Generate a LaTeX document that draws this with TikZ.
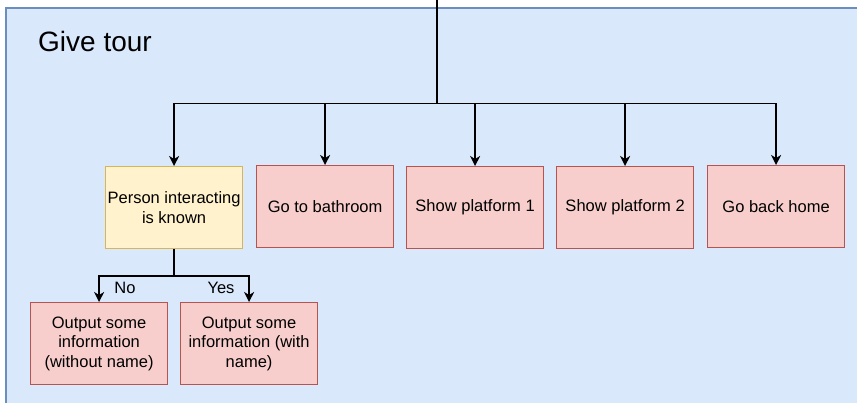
\documentclass[tikz,border=0pt]{standalone}
\usepackage{fontspec}
\setmainfont{Liberation Sans}
\usetikzlibrary{arrows.meta}
\definecolor{bgfill}{HTML}{DAE8FC}
\definecolor{bgdraw}{HTML}{6C8EBF}
\definecolor{redfill}{HTML}{F8CECC}
\definecolor{reddraw}{HTML}{B85450}
\definecolor{yelfill}{HTML}{FFF2CC}
\definecolor{yeldraw}{HTML}{D6B656}
\tikzset{
  box/.style={draw=reddraw, fill=redfill, line width=1.2pt, minimum width=137pt, minimum height=82pt, inner sep=1pt, align=center, font=\fontsize{16.5}{19.5}\selectfont, anchor=north west},
  ybox/.style={box, draw=yeldraw, fill=yelfill},
  conn/.style={line width=1.6pt, -{Stealth[length=10pt,width=10pt,inset=3pt]}},
  lbl/.style={font=\fontsize{16.5}{19.5}\selectfont, inner sep=0pt},
}
\begin{document}
\begin{tikzpicture}[x=1pt,y=-1pt]
\useasboundingbox (0,0) rectangle (857,403);
\begin{scope}
\clip (0,0) rectangle (857,403);
\draw[draw=bgdraw, fill=bgfill, line width=1.2pt] (6,8) rectangle (880,430);
\end{scope}
\node[anchor=base west, inner sep=0pt, font=\fontsize{28}{32}\selectfont] (title) at (38,52) {Give tour};

\node[ybox] (known) at (105,166) {Person interacting\\is known};
\node[box] (bath) at (256,165) {Go to bathroom};
\node[box] (p1) at (406,166) {Show platform 1};
\node[box] (p2) at (556,166) {Show platform 2};
\node[box] (home) at (707,165) {Go back home};
\node[box] (noname) at (30,302) {Output some\\information\\(without name)};
\node[box] (withname) at (180,302) {Output some\\information (with\\name)};

\coordinate (top) at (437,0);
\coordinate (split) at (437,103.5);
\draw[line width=1.6pt] (top) -- (split);
\draw[conn] (split) -| (known.north);
\draw[conn] (split) -| (bath.north);
\draw[conn] (split) -| (p1.north);
\draw[conn] (split) -| (p2.north);
\draw[conn] (split) -| (home.north);

\draw[line width=1.6pt] (known.south) -- ++(0,27) coordinate (br);
\draw[conn] (br) -| (noname.north);
\draw[conn] (br) -| (withname.north);
\node[lbl] (no) at (125,288) {No};
\node[lbl] (yes) at (221,288) {Yes};
\end{tikzpicture}
\end{document}
